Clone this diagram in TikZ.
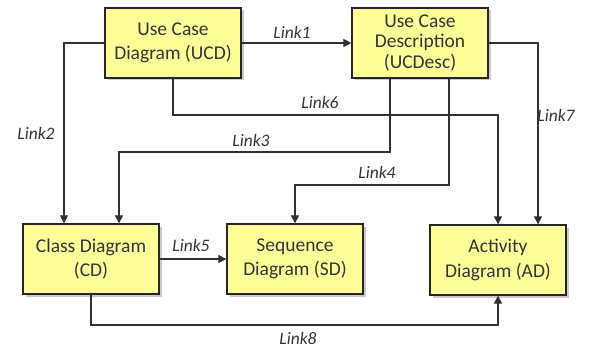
\documentclass[tikz,border=0pt]{standalone}
\usepackage{fontspec}
\setmainfont{Carlito}
\usetikzlibrary{arrows.meta,shadows}
\definecolor{boxfill}{HTML}{FFFF99}
\definecolor{linkline}{HTML}{303030}
\begin{document}
\begin{tikzpicture}[x=1pt, y=-1pt,
	diag/.style={draw=black!85, line width=1.3pt, fill=boxfill, minimum width=136pt, minimum height=70pt,
		align=center, font=\fontsize{19.5}{24.5}\selectfont, text=black!80,
		drop shadow={shadow xshift=2.5pt, shadow yshift=-2.5pt, opacity=0.35, fill=black!60}},
	link/.style={draw=linkline, line width=1.1pt, -{Triangle[length=8pt,width=8pt]}},
	lbl/.style={font=\fontsize{17.5}{20}\selectfont\itshape, text=black!80}]
		\useasboundingbox (0,0) rectangle (596,347);
		
		%diagrams
		\node (ucd) at (173, 43) [diag]{Use Case\\Diagram (UCD)};
		\node (ucdesc) at (420, 43) [diag, font=\fontsize{19.5}{20.5}\selectfont]{Use Case\\Description\\(UCDesc)};
		\node (cd) at (91, 259) [diag]{Class Diagram\\(CD)};
		\node (sd) at (295, 259) [diag]{Sequence\\Diagram (SD)};
		\node (ad) at (498, 260) [diag]{Activity\\Diagram (AD)};
		
		%links
		\draw[link] (ucd.east) -- (ucdesc.west);
		\draw[link] (ucd.west) -| ([xshift=-27pt]cd.north);
		\draw[link] ([xshift=-30pt]ucdesc.south) |- (119, 152) -- ([xshift=28pt]cd.north);
		\draw[link] ([xshift=29pt]ucdesc.south) |- (295, 185) -- (sd.north);
		\draw[link] (cd.east) -- (sd.west);
		\draw[link] (ucd.south) |- (498, 115) -- (ad.north);
		\draw[link] (ucdesc.east) -| ([xshift=40pt]ad.north);
		\draw[link] (cd.south) |- (498, 325) -- (ad.south);
		
		\node (l1) at (292, 32) [lbl]{Link1};
		\node (l2) at (36, 133) [lbl]{Link2};
		\node (l3) at (251, 140) [lbl]{Link3};
		\node (l4) at (377, 172) [lbl]{Link4};
		\node (l5) at (191, 245) [lbl]{Link5};
		\node (l6) at (320, 102) [lbl]{Link6};
		\node (l7) at (556, 115) [lbl]{Link7};
		\node (l8) at (298, 338) [lbl]{Link8};
		\end{tikzpicture}
\end{document}
